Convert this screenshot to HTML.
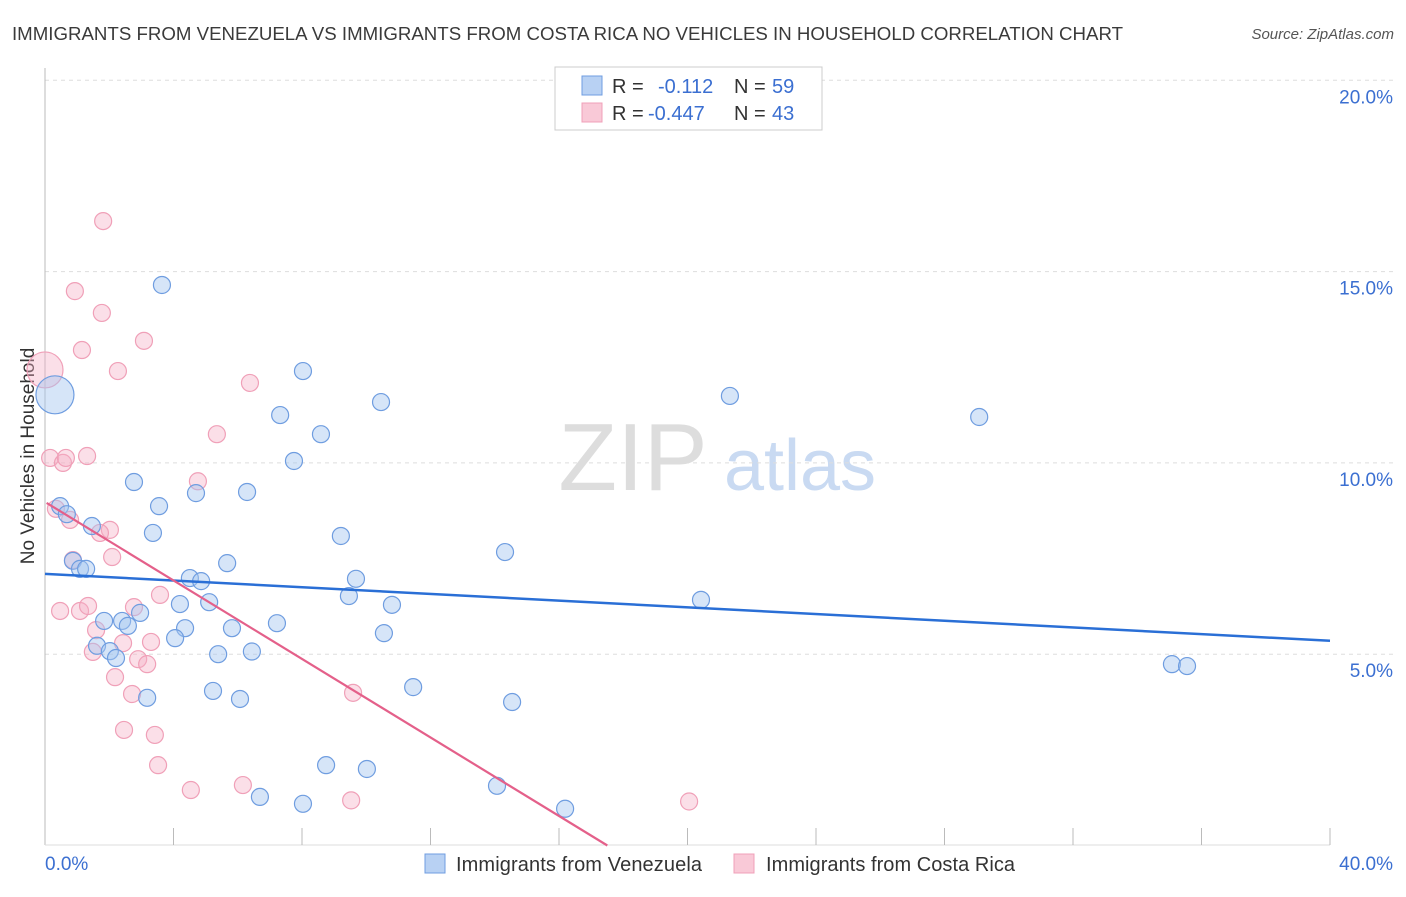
<!DOCTYPE html>
<html><head><meta charset="utf-8"><style>
body{margin:0;background:#fff;font-family:"Liberation Sans",sans-serif;}
svg text{font-family:"Liberation Sans",sans-serif;}
</style></head><body>
<svg id="chart" width="1406" height="892">
<text x="12" y="40" font-size="18" fill="#3a3a3a" textLength="1111" lengthAdjust="spacingAndGlyphs">IMMIGRANTS FROM VENEZUELA VS IMMIGRANTS FROM COSTA RICA NO VEHICLES IN HOUSEHOLD CORRELATION CHART</text>
<text x="1394" y="39" font-size="15" fill="#555" font-style="italic" text-anchor="end">Source: ZipAtlas.com</text>
<g><text x="633" y="490" font-size="96" fill="#ddd" font-family="Liberation Serif" text-anchor="middle">ZIP</text><text x="800" y="490" font-size="72" fill="#c9daf2" text-anchor="middle">atlas</text></g>
<g id="grid"></g><g id="axes"></g>
<text x="34" y="456" font-size="19" fill="#333" text-anchor="middle" transform="rotate(-90 34 456)">No Vehicles in Household</text>
<g id="pts"></g><g id="lines"></g>
<g>
<rect x="555" y="67" width="267" height="63" fill="#fff" stroke="#ccc"/>
<rect x="582" y="76" width="20" height="19" fill="#b8d1f3" stroke="#6f9de0"/>
<rect x="582" y="103" width="20" height="19" fill="#f9c9d7" stroke="#f0a0b8"/>
<text x="612" y="93" font-size="20" fill="#333">R = </text><text x="658" y="93" font-size="20" fill="#3b6fd1">-0.112</text>
<text x="734" y="93" font-size="20" fill="#333">N = </text><text x="772" y="93" font-size="20" fill="#3b6fd1">59</text>
<text x="612" y="120" font-size="20" fill="#333">R = </text><text x="648" y="120" font-size="20" fill="#3b6fd1">-0.447</text>
<text x="734" y="120" font-size="20" fill="#333">N = </text><text x="772" y="120" font-size="20" fill="#3b6fd1">43</text>
</g>
<g>
<rect x="425" y="854" width="20" height="19" fill="#b8d1f3" stroke="#6f9de0"/>
<text x="456" y="871" font-size="20" fill="#333" textLength="246">Immigrants from Venezuela</text>
<rect x="734" y="854" width="20" height="19" fill="#f9c9d7" stroke="#f0a0b8"/>
<text x="766" y="871" font-size="20" fill="#333" textLength="249">Immigrants from Costa Rica</text>
</g>
</svg>
<script>
const yTicks=[5,10,15,20];
const yTickLabels=["5.0%","10.0%","15.0%","20.0%"];
const xTickLabels=["0.0%","40.0%"];
const venX=[.31,.47,.68,1.46,.87,1.09,1.28,3.64,2.77,3.55,3.36,4.70,6.29,7.32,8.03,7.75,8.59,10.46,9.21,9.68,10.80,9.46,10.55,11.46,5.67,4.51,4.86,4.20,5.11,4.36,4.05,5.82,7.22,5.39,6.44,5.23,6.07,3.18,1.84,2.40,2.58,2.96,1.62,2.02,2.21,14.32,14.54,14.07,16.19,21.32,20.42,29.08,35.08,35.55,8.03,6.69,8.75,10.02];
const venY=[11.78,8.87,8.66,8.35,7.44,7.23,7.23,14.65,9.50,8.87,8.17,9.21,9.24,11.25,12.40,10.05,10.75,11.59,8.09,6.97,6.29,6.52,5.55,4.14,7.38,6.99,6.91,6.31,6.36,5.68,5.42,5.68,5.81,5.00,5.07,4.04,3.83,3.86,5.87,5.87,5.74,6.08,5.22,5.08,4.90,7.67,3.75,1.56,.96,11.75,6.42,11.20,4.74,4.69,1.09,1.27,2.10,2.00];
const crX=[0,.16,.56,.65,1.31,1.81,.93,1.77,1.15,3.08,2.27,6.38,5.35,4.76,.34,.78,.87,2.02,1.71,2.09,.47,1.09,1.34,3.58,2.77,1.59,2.43,3.30,1.49,2.90,3.18,2.18,2.71,9.59,2.46,3.42,3.52,4.54,6.16,9.53,20.05];
const crY=[12.43,10.13,10.00,10.13,10.18,16.32,14.49,13.92,12.95,13.19,12.40,12.09,10.75,9.52,8.80,8.51,7.46,8.25,8.17,7.54,6.13,6.13,6.26,6.55,6.23,5.63,5.29,5.32,5.06,4.87,4.74,4.40,3.96,3.99,3.02,2.89,2.10,1.45,1.58,1.18,1.15];
const venTrend=[7.10,5.35];
const crTrend=[8.98,-0.513];
const NS="http://www.w3.org/2000/svg";
const X=v=>45+v/40*1285, Y=v=>845.5-v*38.26;
function mk(t,a,p){const e=document.createElementNS(NS,t);for(const k in a)e.setAttribute(k,a[k]);p.appendChild(e);return e;}
const grid=document.getElementById('grid'),axes=document.getElementById('axes');
yTicks.forEach((t,i)=>{
 const l=mk('line',{x1:45,x2:1393,y1:Y(t),y2:Y(t),stroke:'#ddd','stroke-dasharray':'4,4'},grid);
 
 
 const tx=mk('text',{x:1393,y:Y(t)+23,'font-size':19,fill:'#3b6fd1','text-anchor':'end'},axes);tx.textContent=yTickLabels[i];
 
 
});
mk('line',{x1:45,x2:45,y1:68,y2:845,stroke:'#bbb'},axes);
mk('line',{x1:45,x2:1330,y1:845,y2:845,stroke:'#ddd'},axes);
for(let i=1;i<=10;i++){mk('line',{x1:X(i*4),x2:X(i*4),y1:828,y2:845,stroke:'#bbb'},axes);}
const x0=mk('text',{x:45,y:870,'font-size':19,fill:'#3b6fd1'},axes);x0.textContent=xTickLabels[0];


const x1=mk('text',{x:1393,y:870,'font-size':19,fill:'#3b6fd1','text-anchor':'end'},axes);x1.textContent=xTickLabels[1];


const pts=document.getElementById('pts');
crX.forEach((x,i)=>{const c=mk('circle',{cx:X(x),cy:Y(crY[i]),r:i==0?18:8.5,fill:'rgba(245,175,198,0.4)',stroke:'#f0a0b8','stroke-width':1.2},pts);
 
 });
venX.forEach((x,i)=>{const c=mk('circle',{cx:X(x),cy:Y(venY[i]),r:i==0?19:8.5,fill:'rgba(165,198,240,0.45)',stroke:'#6f9de0','stroke-width':1.2},pts);
 
 });
const lines=document.getElementById('lines');
const bl=mk('line',{x1:X(0),y1:Y(venTrend[0]),x2:X(40),y2:Y(venTrend[1]),stroke:'#2a6fd6','stroke-width':2.5},lines);


const xe=-crTrend[0]/crTrend[1];
const pl=mk('line',{x1:X(0.05),y1:Y(crTrend[0]+crTrend[1]*0.05),x2:X(xe),y2:Y(0),stroke:'#e4608a','stroke-width':2.2},lines);


</script>
</body></html>
